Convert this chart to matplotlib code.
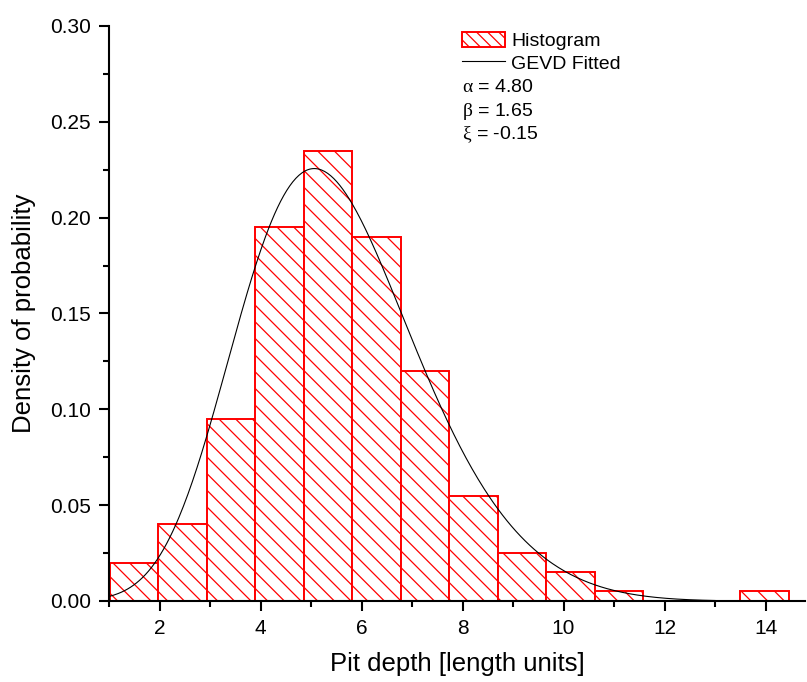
import numpy as np
import matplotlib
matplotlib.use("Agg")
import matplotlib.pyplot as plt
from matplotlib.patches import Patch
from matplotlib.lines import Line2D
from matplotlib.ticker import MultipleLocator

plt.rcParams['font.family'] = ['Liberation Sans', 'DejaVu Sans']
plt.rcParams['mathtext.fontset'] = 'custom'
plt.rcParams['mathtext.rm'] = 'Liberation Serif'
plt.rcParams['mathtext.it'] = 'Liberation Serif'
plt.rcParams['hatch.linewidth'] = 0.9
plt.rcParams['hatch.color'] = 'red'

# Bordes de los bins
bordes = [1.02, 1.98, 2.94, 3.90, 4.86, 5.82, 6.78, 7.74, 8.70, 9.66,
          10.62, 11.58, 12.54, 13.50, 14.46]
# Frecuencia relativa por bin
alturas = [0.020, 0.040, 0.095, 0.195, 0.235, 0.190, 0.120, 0.055, 0.025,
           0.015, 0.005, 0.0, 0.0, 0.005]

# Parametros GEVD del ajuste
alfa = 4.80   # localizacion
beta = 1.65   # escala
xi = -0.15    # forma

def gevPdf(x, mu, sigma, k):
    s = (x - mu) / sigma
    t = np.clip(1 + k * s, 1e-12, None) ** (-1.0 / k)
    return (1.0 / sigma) * t ** (k + 1) * np.exp(-t)

fig = plt.figure(figsize=(8.07, 6.82), dpi=100)
ax = fig.add_axes([109/807, 1 - 601/682, (805 - 109)/807, (601 - 26)/682])

izq = np.array(bordes[:-1])
anchos = np.diff(bordes)
alt = np.array(alturas)
mask = alt > 0
ax.bar(izq[mask], alt[mask], width=anchos[mask], align='edge',
       facecolor='white', edgecolor='red', linewidth=1.4, hatch='\\\\',
       zorder=2)

xs = np.linspace(1.0, 13.0, 400)
ax.plot(xs, gevPdf(xs, alfa, beta, xi), color='black', linewidth=0.8, zorder=3)

ax.set_xlim(1.0, 1.0 + (805 - 109) / 50.5)
ax.set_ylim(0, 0.30)
ax.xaxis.set_major_locator(MultipleLocator(2))
ax.xaxis.set_minor_locator(MultipleLocator(1))
ax.yaxis.set_major_locator(MultipleLocator(0.05))
ax.yaxis.set_minor_locator(MultipleLocator(0.025))
ax.yaxis.set_major_formatter(plt.FormatStrFormatter('%.2f'))

for lado in ['top', 'right']:
    ax.spines[lado].set_visible(False)
for lado in ['left', 'bottom']:
    ax.spines[lado].set_linewidth(1.5)
    ax.spines[lado].set_zorder(4)

ax.tick_params(which='major', direction='out', length=7, width=1.5,
               labelsize=15, pad=6)
ax.tick_params(which='minor', direction='out', length=4, width=1.5)

ax.set_xlabel("Pit depth [length units]", fontsize=18.5, labelpad=10)
ax.set_ylabel("Density of probability", fontsize=18.5, labelpad=10)

manijas = [Patch(facecolor='white', edgecolor='red', hatch='\\\\\\', linewidth=1.4),
           Line2D([0], [0], color='black', linewidth=0.8)]
leg = ax.legend(manijas, ["Histogram", "GEVD Fitted"], frameon=False,
                fontsize=14, loc='upper left',
                bbox_to_anchor=((462 - 109) / 696 - 0.005, 1 - (28 - 26) / 575),
                handlelength=2.2, handleheight=0.8, handletextpad=0.3,
                labelspacing=0.22, borderaxespad=0, borderpad=0.2)

textos = [r"$\alpha$ = %.2f" % alfa, r"$\beta$ = %.2f" % beta, r"$\xi$ = %.2f" % xi]
for i, t in enumerate(textos):
    fig.text(462/807, 1 - (88 + 23.5*i)/682, t, fontsize=14, va='center', ha='left')

fig.savefig("out.png", dpi=100)
